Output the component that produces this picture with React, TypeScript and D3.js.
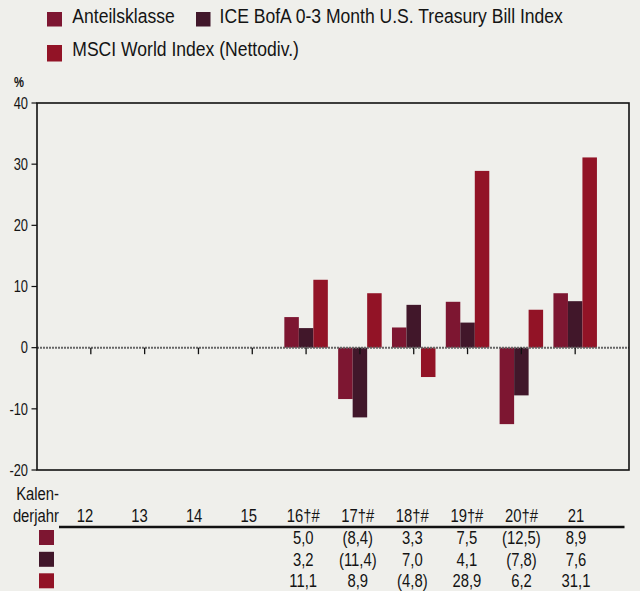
import React from "react";
import * as d3 from "d3";

const years = ["12", "13", "14", "15", "16†#", "17†#", "18†#", "19†#", "20†#", "21"];
const seriesNames = ["Anteilsklasse", "ICE BofA 0-3 Month U.S. Treasury Bill Index", "MSCI World Index (Nettodiv.)"];
const anteil: (number | null)[] = [null, null, null, null, 5.0, -8.4, 3.3, 7.5, -12.5, 8.9];
const ice: (number | null)[] = [null, null, null, null, 3.2, -11.4, 7.0, 4.1, -7.8, 7.6];
const msci: (number | null)[] = [null, null, null, null, 11.1, 8.9, -4.8, 28.9, 6.2, 31.1];
const yTicks = [-20, -10, 0, 10, 20, 30, 40];
const colors = ["#7d1631", "#41172a", "#921326"];

const W = 640, H = 591;
const FONT = "'Liberation Sans', Arial, sans-serif";

function fmt(v: number | null) {
  if (v === null) return "";
  const s = Math.abs(v).toFixed(1).replace(".", ",");
  return v < 0 ? `(${s})` : s;
}

function T({ x, y, size, sx, anchor = "start", weight = "normal", children }: { x: number; y: number; size: number; sx: number; anchor?: string; weight?: string; children: React.ReactNode }) {
  return (
    <g transform={`translate(${x},${y}) scale(${sx},1)`}>
      <text x={0} y={0} dy="0.35em" fontSize={size} fontWeight={weight} textAnchor={anchor} fill="#141414" fontFamily={FONT}>{children}</text>
    </g>
  );
}

export default function App() {
  const left = 37, right = 629, top = 103, bottom = 470;
  const x = d3.scaleLinear().domain([-1, years.length]).range([left, right]);
  const y = d3.scaleLinear().domain([-20, 40]).range([bottom, top]);
  const tx = d3.scaleLinear().domain([0, years.length - 1]).range([85, 576]);
  const series = [anteil, ice, msci];
  const bw = 14.5;
  const rowY = [537.5, 559.3, 580.8];
  const LS = 19.5, LSX = 0.9;
  const TS = 18.3, TSX = 0.81;

  return (
    <svg width={W} height={H} style={{ position: "absolute", left: 0, top: 0, background: "#efefeb" }}>
      <rect x={0} y={0} width={W} height={H} fill="#efefeb" />
      {/* legend */}
      <rect x={47} y={12} width={15} height={14.5} fill={colors[0]} />
      <T x={72.3} y={16.5} size={LS} sx={LSX}>{seriesNames[0]}</T>
      <rect x={196} y={12} width={14.5} height={14.5} fill={colors[1]} />
      <T x={219.6} y={16.5} size={LS} sx={LSX}>{seriesNames[1]}</T>
      <rect x={47} y={45} width={15} height={16.5} fill={colors[2]} />
      <T x={72.3} y={49.2} size={LS} sx={LSX}>{seriesNames[2]}</T>

      <T x={14} y={82.5} size={14} sx={0.8} weight="bold">%</T>

      {/* y ticks */}
      {yTicks.map((t) => (
        <g key={t}>
          <line x1={31.5} x2={left} y1={y(t)} y2={y(t)} stroke="#111" strokeWidth={1.2} />
          <T x={28} y={y(t)} size={16.5} sx={0.78} anchor="end">{t}</T>
        </g>
      ))}

      {/* bars */}
      {series.map((s, si) =>
        s.map((v, i) =>
          v === null ? null : (
            <rect
              key={`${si}-${i}`}
              x={x(i) - 1.5 * bw + si * bw}
              y={Math.min(y(v), y(0))}
              width={bw}
              height={Math.abs(y(v) - y(0))}
              fill={colors[si]}
            />
          )
        )
      )}

      {/* zero line */}
      <line x1={left} x2={right} y1={y(0)} y2={y(0)} stroke="#666" strokeWidth={2} strokeDasharray="2,1" />
      {years.map((_, i) => (
        <line key={i} x1={x(i)} x2={x(i)} y1={y(0)} y2={y(0) + 6.5} stroke="#111" strokeWidth={1.3} />
      ))}

      {/* frame */}
      <rect x={left} y={top} width={right - left} height={bottom - top} fill="none" stroke="#111" strokeWidth={1.6} />

      {/* table */}
      <T x={59} y={493.5} size={TS} sx={TSX} anchor="end">Kalen-</T>
      <T x={59} y={515.5} size={TS} sx={TSX} anchor="end">derjahr</T>
      {years.map((yr, i) => (
        <T key={yr} x={tx(i)} y={515.8} size={TS} sx={TSX} anchor="middle">{yr}</T>
      ))}
      <line x1={59} x2={624.5} y1={527} y2={527} stroke="#111" strokeWidth={2.5} />
      {series.map((s, si) => (
        <g key={si}>
          <rect x={39} y={rowY[si] - 7.5} width={15} height={15} fill={colors[si]} />
          {s.map((v, i) => (
            <T key={i} x={tx(i)} y={rowY[si]} size={TS} sx={TSX} anchor="middle">{fmt(v)}</T>
          ))}
        </g>
      ))}
    </svg>
  );
}
